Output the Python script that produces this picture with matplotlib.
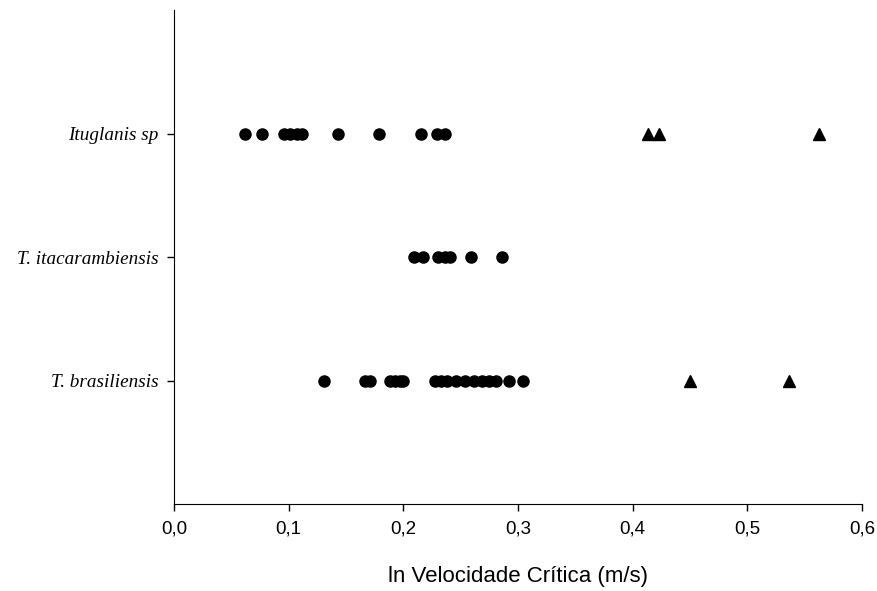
import matplotlib
matplotlib.use("Agg")
import matplotlib.pyplot as plt
from matplotlib.ticker import FuncFormatter

# species on the y axis (bottom to top)
species = ["T. brasiliensis", "T. itacarambiensis", "Ituglanis sp"]

# circles and triangles per species (x values)
circ_bras = [0.131, 0.167, 0.171, 0.188, 0.193, 0.197, 0.200, 0.228, 0.233,
             0.238, 0.246, 0.254, 0.262, 0.269, 0.275, 0.281, 0.292, 0.304]
tri_bras = [0.450, 0.536]
circ_itac = [0.209, 0.217, 0.230, 0.236, 0.241, 0.259, 0.286]
tri_itac = []
circ_itug = [0.062, 0.077, 0.096, 0.101, 0.107, 0.112, 0.143, 0.179,
             0.215, 0.229, 0.236]
tri_itug = [0.413, 0.423, 0.562]

circles = [circ_bras, circ_itac, circ_itug]
triangles = [tri_bras, tri_itac, tri_itug]

fig = plt.figure(figsize=(8.78, 5.91), dpi=100)
ax = fig.add_axes([0.198, 0.147, 0.784, 0.836])

for i, (c, t) in enumerate(zip(circles, triangles)):
    ax.plot(c, [i + 1] * len(c), "o", color="black", markersize=8, linestyle="none")
    if t:
        ax.plot(t, [i + 1] * len(t), "^", color="black", markersize=8, linestyle="none")

ax.set_xlim(0, 0.6)
ax.set_ylim(0, 4)
ax.set_xticks([0, 0.1, 0.2, 0.3, 0.4, 0.5, 0.6])
ax.xaxis.set_major_formatter(FuncFormatter(lambda v, p: f"{v:.1f}".replace(".", ",")))
ax.set_yticks([1, 2, 3])
ax.set_yticklabels(species, family="Liberation Serif", style="italic", fontsize=13.8)
for lab in ax.get_xticklabels():
    lab.set_family("Liberation Sans")
    lab.set_fontsize(13.5)

ax.spines["top"].set_visible(False)
ax.spines["right"].set_visible(False)
ax.tick_params(direction="out", length=5, width=1)
ax.tick_params(axis="x", pad=7)
ax.tick_params(axis="y", pad=6)
ax.set_xlabel("ln Velocidade Crítica (m/s)", family="Liberation Sans", fontsize=16, labelpad=20)

fig.savefig("out.png", dpi=100)
